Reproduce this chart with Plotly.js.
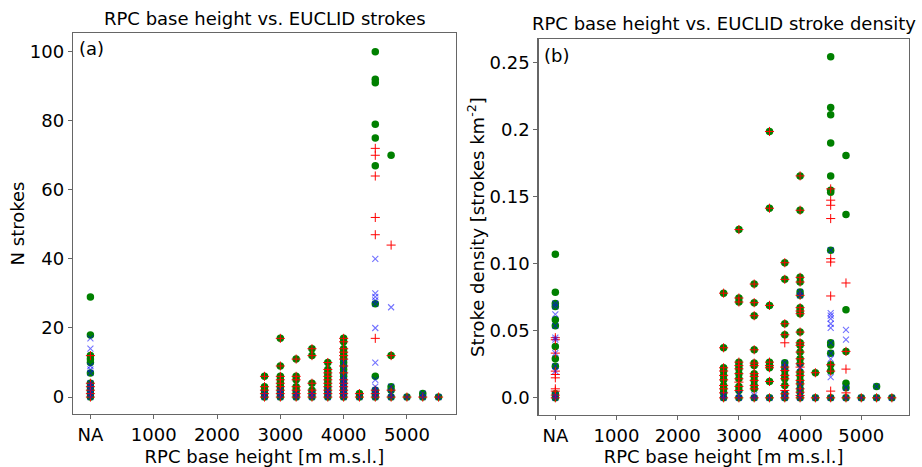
<!DOCTYPE html>
<html>
<head>
<meta charset="utf-8">
<script src="https://cdn.plot.ly/plotly-3.0.1.min.js"></script>
<style>
  html, body { margin: 0; padding: 0; background: #ffffff; }
  #chart { width: 922px; height: 467px; }
</style>
</head>
<body>
<div id="chart"></div>
<script>
// RPC base height bins (0 stands for "NA")
const bins = [0, 2750, 3000, 3250, 3500, 3750, 4000, 4250, 4500, 4750, 5000, 5250, 5500];
const xTickVals = [0, 1000, 2000, 3000, 4000, 5000];
const xTickText = ["NA", "1000", "2000", "3000", "4000", "5000"];

// Panel (a): N strokes, per bin — all strokes (green), red "+" and blue "x"
const nAll = [
  [29, 18, 12, 11, 10, 7, 4, 3, 2, 1, 0],
  [6, 3, 2, 1, 0],
  [17, 9, 6, 5, 4, 3, 2, 1, 0],
  [11, 6, 5, 3, 2, 1, 0],
  [14, 12, 4, 2, 1, 0],
  [10, 8, 7, 6, 5, 4, 3, 2, 1, 0],
  [17, 16, 14, 13, 12, 11, 10, 9, 8, 7, 6, 5, 4, 3, 2, 1, 0],
  [1, 0],
  [100, 92, 91, 79, 75, 67, 27, 6, 2, 1, 0],
  [70, 12, 3, 2, 0],
  [0],
  [1, 0],
  [0]
];
const nRed = [
  [12, 4, 3, 2, 1, 0],
  [6, 3, 2, 1, 0],
  [17, 9, 6, 5, 4, 3, 2, 1, 0],
  [11, 6, 5, 3, 2, 1, 0],
  [14, 12, 4, 2, 1, 0],
  [10, 8, 7, 6, 5, 4, 3, 2, 1, 0],
  [17, 16, 14, 13, 12, 11, 9, 7, 5, 4, 3, 2, 1, 0],
  [1, 0],
  [72, 70, 64, 52, 47, 17, 2, 1, 0],
  [44, 12, 2, 0],
  [0],
  [0],
  [0]
];
const nBlue = [
  [17, 14, 9, 8, 7, 4, 3, 2, 1, 0],
  [1, 0],
  [2, 1, 0],
  [1, 0],
  [1, 0],
  [2, 1, 0],
  [10, 8, 6, 5, 4, 3, 2, 1, 0],
  [0],
  [40, 30, 29, 28, 27, 20, 10, 5, 3, 2, 1, 0],
  [26, 3, 1, 0],
  [0],
  [1, 0],
  [0]
];

// Panel (b): stroke density [strokes km^-2], per bin
const dAll = [
  [0.107, 0.0786, 0.0703, 0.0681, 0.0582, 0.0537, 0.0383, 0.0291, 0.0236, 0.003, 0],
  [0.078, 0.0373, 0.0224, 0.020, 0.0167, 0.0134, 0.0092, 0.0067, 0.0037, 0],
  [0.1254, 0.0744, 0.0714, 0.0266, 0.024, 0.0216, 0.018, 0.0142, 0.0085, 0.0055, 0],
  [0.0848, 0.0709, 0.0612, 0.0358, 0.0259, 0.024, 0.018, 0.016, 0.013, 0.0092, 0.0067, 0],
  [0.1985, 0.1413, 0.0689, 0.0266, 0.024, 0.0224, 0.0122, 0],
  [0.1007, 0.0883, 0.0552, 0.047, 0.0261, 0.0229, 0.0204, 0.0167, 0.0142, 0.0092, 0.003, 0],
  [0.1654, 0.1398, 0.0898, 0.0863, 0.0789, 0.0764, 0.0672, 0.0647, 0.0627, 0.049, 0.041, 0.0391, 0.0341, 0.0291, 0.0254, 0.0192, 0.0167, 0.013, 0.0104, 0.0067, 0.0042, 0],
  [0.0187, 0],
  [0.2542, 0.2164, 0.2109, 0.19, 0.1654, 0.1547, 0.1532, 0.11, 0.041, 0.0393, 0.0333, 0.0246, 0.0199, 0],
  [0.1806, 0.1366, 0.0657, 0.0346, 0.0109, 0.0075, 0],
  [0],
  [0.0085, 0],
  [0]
];
const dRed = [
  [0.0448, 0.0433, 0.0333, 0.0199, 0.0174, 0.0149, 0.0067, 0.005, 0.002, 0],
  [0.078, 0.0373, 0.0224, 0.020, 0.0167, 0.0134, 0.0092, 0.0067, 0.0037, 0],
  [0.1254, 0.0744, 0.0714, 0.0266, 0.024, 0.0216, 0.018, 0.0142, 0.0117, 0.0085, 0.0055, 0],
  [0.0848, 0.0709, 0.0612, 0.0358, 0.0259, 0.024, 0.018, 0.016, 0.013, 0.0092, 0.0067, 0],
  [0.1985, 0.1413, 0.0689, 0.0266, 0.024, 0.0224, 0.0122, 0],
  [0.1007, 0.0883, 0.0552, 0.047, 0.041, 0.0229, 0.0204, 0.0167, 0.0142, 0.0092, 0.0055, 0.003, 0],
  [0.1654, 0.1398, 0.0898, 0.0863, 0.0764, 0.0672, 0.0647, 0.0627, 0.049, 0.041, 0.0391, 0.0341, 0.0291, 0.0254, 0.0229, 0.0192, 0.0167, 0.013, 0.0104, 0.0067, 0.0042, 0.0017, 0],
  [0.0187, 0],
  [0.1557, 0.1473, 0.1435, 0.1336, 0.1037, 0.1012, 0.0759, 0.0246, 0.0199, 0.005, 0],
  [0.0856, 0.0346, 0.0214, 0.0037, 0],
  [0],
  [0],
  [0]
];
const dBlue = [
  [0.0703, 0.0681, 0.0622, 0.0537, 0.0448, 0.0433, 0.0333, 0.0236, 0.0199, 0.002, 0],
  [0.002, 0],
  [0.003, 0],
  [0.002, 0],
  [0],
  [0.0261, 0.0229, 0.003, 0],
  [0.0789, 0.0764, 0.0229, 0.01, 0.005, 0],
  [0],
  [0.11, 0.0632, 0.0612, 0.059, 0.0552, 0.0522, 0.041, 0.0333, 0.029, 0.0154, 0],
  [0.0507, 0.0433, 0.0075, 0],
  [0],
  [0.0085, 0],
  [0]
];

function flat(groups) {
  const xs = [], ys = [];
  groups.forEach((vals, i) => vals.forEach(v => { xs.push(bins[i]); ys.push(v); }));
  return { x: xs, y: ys };
}

const FONT = "DejaVu Sans, sans-serif";
const AX = "#666666";
const FS = 18;

function series(groups, kind, xa, ya) {
  const p = flat(groups);
  const t = { x: p.x, y: p.y, mode: "markers", type: "scatter", xaxis: xa, yaxis: ya, hoverinfo: "skip", cliponaxis: true };
  if (kind === "all") {
    t.marker = { symbol: "circle", size: 7.5, color: "#008000", line: { width: 0 } };
  } else if (kind === "red") {
    t.marker = { symbol: "cross-thin", size: 6.5, color: "#ff0000", line: { width: 1, color: "#ff0000" } };
  } else {
    t.marker = { symbol: "x-thin", size: 6, color: "rgba(0,0,255,0.55)", line: { width: 1.1, color: "rgba(0,0,255,0.55)" } };
  }
  return t;
}

const data = [
  series(nAll, "all", "x", "y"),
  series(nRed, "red", "x", "y"),
  series(nBlue, "blue", "x", "y"),
  series(dAll, "all", "x2", "y2"),
  series(dRed, "red", "x2", "y2"),
  series(dBlue, "blue", "x2", "y2")
];

const W = 922, H = 467;
const axBase = {
  showgrid: false, zeroline: false, showline: true, mirror: true,
  linecolor: AX, linewidth: 1.2, ticks: "outside", ticklen: 4, tickwidth: 1, tickcolor: AX,
  tickfont: { family: FONT, size: FS, color: "#000" }, automargin: false
};

const layout = {
  width: W, height: H,
  margin: { l: 0, r: 0, t: 0, b: 0 },
  paper_bgcolor: "#ffffff", plot_bgcolor: "#ffffff",
  showlegend: false,
  font: { family: FONT, color: "#000" },
  xaxis: Object.assign({}, axBase, {
    domain: [73 / W, 456 / W], range: [-275, 5775],
    tickvals: xTickVals, ticktext: xTickText, anchor: "y",
    title: { text: "RPC base height [m m.s.l.]", font: { family: FONT, size: FS }, standoff: 6 }
  }),
  yaxis: Object.assign({}, axBase, {
    domain: [1 - 414 / H, 1 - 33 / H], range: [-4.9, 105.4],
    tickvals: [0, 20, 40, 60, 80, 100], anchor: "x",
    title: { text: "N strokes", font: { family: FONT, size: FS }, standoff: 0 }
  }),
  xaxis2: Object.assign({}, axBase, {
    domain: [538.5 / W, 908.7 / W], range: [-275, 5775],
    tickvals: xTickVals, ticktext: xTickText, anchor: "y2",
    title: { text: "RPC base height [m m.s.l.]", font: { family: FONT, size: FS }, standoff: 6 }
  }),
  yaxis2: Object.assign({}, axBase, {
    domain: [1 - 415 / H, 1 - 39.3 / H], range: [-0.0128, 0.2672],
    tickvals: [0, 0.05, 0.1, 0.15, 0.2, 0.25], ticktext: ["0.0", "0.05", "0.10", "0.15", "0.2", "0.25"], anchor: "x2",
    title: { text: "Stroke density [strokes km<sup>-2</sup>]", font: { family: FONT, size: FS }, standoff: 0 }
  }),
  annotations: [
    { text: "RPC base height vs. EUCLID strokes", xref: "paper", yref: "paper", x: 264.5 / W, y: 1 - 19 / H, xanchor: "center", yanchor: "middle", showarrow: false, font: { family: FONT, size: FS } },
    { text: "RPC base height vs. EUCLID stroke density", xref: "paper", yref: "paper", x: 723.6 / W, y: 1 - 23 / H, xanchor: "center", yanchor: "middle", showarrow: false, font: { family: FONT, size: FS } },
    { text: "(a)", xref: "paper", yref: "paper", x: 77 / W, y: 1 - 48 / H, xanchor: "left", yanchor: "middle", showarrow: false, font: { family: FONT, size: FS } },
    { text: "(b)", xref: "paper", yref: "paper", x: 542 / W, y: 1 - 55 / H, xanchor: "left", yanchor: "middle", showarrow: false, font: { family: FONT, size: FS } }
  ]
};

Plotly.newPlot("chart", data, layout, { staticPlot: true, displayModeBar: false });
</script>
</body>
</html>
